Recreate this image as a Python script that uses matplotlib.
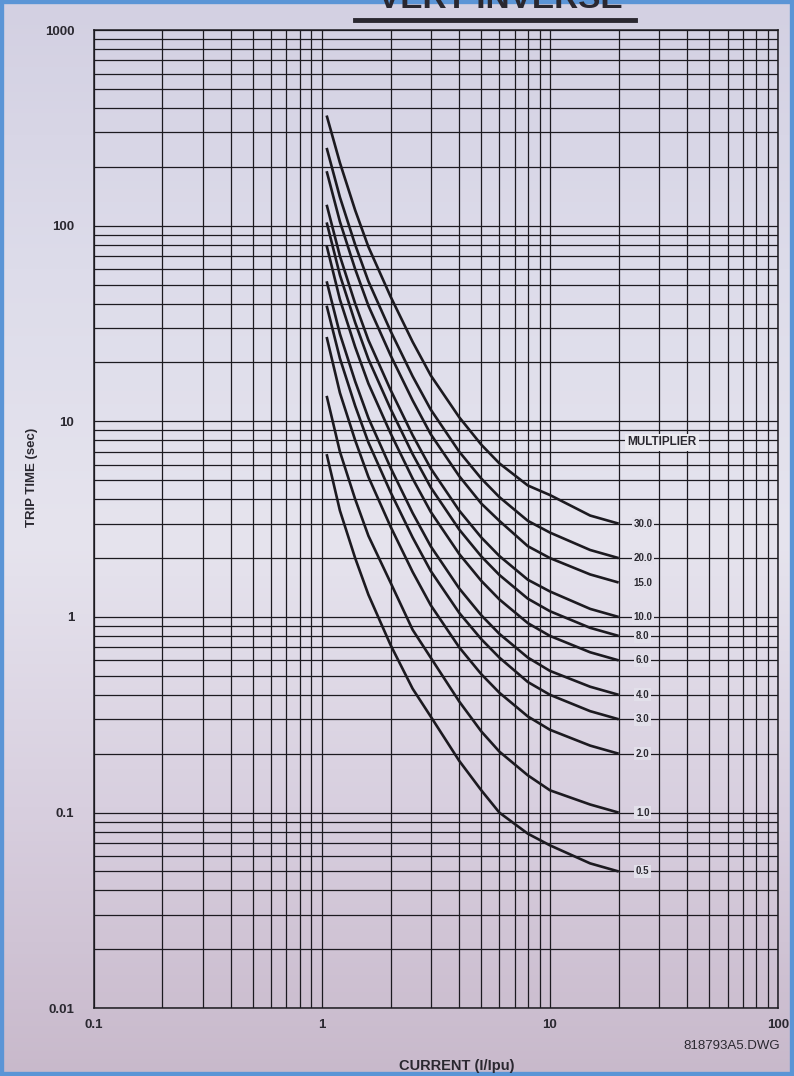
import numpy as np
import matplotlib
matplotlib.use("Agg")
import matplotlib.pyplot as plt
from matplotlib.colors import LinearSegmentedColormap
from matplotlib.patches import Rectangle
from matplotlib.lines import Line2D

# ---- data --------------------------------------------------------------------
current = [1.05, 1.2, 1.4, 1.6, 2.0, 2.5, 3.0, 4.0, 5.0, 6.0, 8.0, 10.0, 15.0, 20.0]

multipliers = ["30.0", "20.0", "15.0", "10.0", "8.0", "6.0", "4.0", "3.0", "2.0", "1.0", "0.5"]

t_30 = [366, 210, 120, 78, 43.5, 25.5, 17.2, 10.5, 7.6, 6.1, 4.7, 4.2, 3.3, 3.0]
t_20 = [250, 140, 80, 52, 29, 17, 11.5, 7.0, 5.1, 4.1, 3.1, 2.7, 2.2, 2.0]
t_15 = [190, 105, 60, 39, 21.8, 12.8, 8.6, 5.25, 3.8, 3.1, 2.3, 2.0, 1.65, 1.5]
t_10 = [128, 70, 40, 26, 14.5, 8.5, 5.75, 3.5, 2.55, 2.05, 1.55, 1.35, 1.1, 1.0]
t_8 = [104, 56, 32, 20.8, 11.6, 6.8, 4.6, 2.8, 2.04, 1.64, 1.24, 1.07, 0.88, 0.8]
t_6 = [79, 42, 24, 15.6, 8.7, 5.1, 3.45, 2.1, 1.53, 1.23, 0.93, 0.8, 0.66, 0.6]
t_4 = [52, 28, 16, 10.4, 5.8, 3.4, 2.3, 1.4, 1.02, 0.82, 0.62, 0.53, 0.44, 0.4]
t_3 = [39, 21, 12, 7.8, 4.35, 2.55, 1.72, 1.05, 0.77, 0.62, 0.465, 0.4, 0.33, 0.3]
t_2 = [27, 14, 8.0, 5.2, 2.9, 1.7, 1.15, 0.7, 0.51, 0.41, 0.31, 0.265, 0.22, 0.2]
t_1 = [13.5, 7.0, 4.0, 2.6, 1.5, 0.86, 0.62, 0.37, 0.26, 0.205, 0.155, 0.13, 0.11, 0.1]
t_05 = [6.8, 3.5, 2.0, 1.3, 0.72, 0.43, 0.31, 0.184, 0.13, 0.10, 0.078, 0.068, 0.055, 0.05]

curves = [t_30, t_20, t_15, t_10, t_8, t_6, t_4, t_3, t_2, t_1, t_05]

x_ticks = [0.1, 1, 10, 100]
x_ticklabels = ["0.1", "1", "10", "100"]
y_ticks = [0.01, 0.1, 1, 10, 100, 1000]
y_ticklabels = ["0.01", "0.1", "1", "10", "100", "1000"]

BG = "#e2e0ea"
INK = "#1c1a20"
TXT = "#2a2830"
FONT = "Liberation Sans"

# ---- figure -----------------------------------------------------------------
fig = plt.figure(figsize=(7.94, 10.76), dpi=100)

# paper background (photo light falloff)
bg = fig.add_axes([0, 0, 1, 1], zorder=-5)
cmap = LinearSegmentedColormap.from_list(
    "paper", ["#c8b9cb", "#d8cfdf", "#e6e4ee", "#dddcea", "#d3d0e2"])
bg.imshow(np.linspace(0, 1, 256).reshape(-1, 1), aspect="auto", cmap=cmap,
          origin="lower", extent=[0, 1, 0, 1])
bg.axis("off")

ax = fig.add_axes([0.118, 0.063, 0.862, 0.909])
ax.set_facecolor("none")
ax.set_xscale("log")
ax.set_yscale("log")
ax.set_xlim(0.1, 100)
ax.set_ylim(0.01, 1000)

ax.grid(True, which="both", color=INK, lw=0.9)
ax.set_axisbelow(True)
for s in ax.spines.values():
    s.set_color(INK)
    s.set_linewidth(1.1)

ax.set_xticks(x_ticks)
ax.set_xticklabels(x_ticklabels)
ax.set_yticks(y_ticks)
ax.set_yticklabels(y_ticklabels)
ax.tick_params(which="both", length=0)
ax.tick_params(axis="x", pad=8)
ax.tick_params(axis="y", pad=14)
for lab in ax.get_xticklabels() + ax.get_yticklabels():
    lab.set_fontfamily(FONT)
    lab.set_fontweight("bold")
    lab.set_fontsize(9.5)
    lab.set_color(TXT)

for name, t in zip(multipliers, curves):
    ax.plot(current, t, color=INK, lw=1.9, solid_capstyle="butt", zorder=3)
    ax.text(25.5, t[-1], name, ha="center", va="center", fontsize=7,
            fontfamily=FONT, fontweight="bold", color=TXT, zorder=4,
            bbox=dict(facecolor=BG, edgecolor="none", pad=1.2))

ax.text(31, 7.8, "MULTIPLIER", ha="center", va="center", fontsize=8.5,
        fontfamily=FONT, fontweight="bold", color=TXT, zorder=4,
        bbox=dict(facecolor="#ebeaf0", edgecolor="none", pad=1.5))

fig.text(0.040, 0.556, "TRIP TIME (sec)", rotation=90, ha="center", va="center",
         fontsize=9.5, fontfamily=FONT, fontweight="bold", color=TXT)
fig.text(0.575, 0.0095, "CURRENT (I/Ipu)", ha="center", va="center",
         fontsize=10.5, fontfamily=FONT, fontweight="bold", color=TXT)
fig.text(0.982, 0.028, "818793A5.DWG", ha="right", va="center",
         fontsize=9.5, fontfamily=FONT, color=TXT)

# page title, mostly cut off by the photo edge
fig.text(0.63, 0.9925, "VERY INVERSE", ha="center", va="baseline",
         fontsize=24, fontfamily=FONT, fontweight="bold", color=TXT)
fig.add_artist(Line2D([0.447, 0.80], [0.981, 0.981], transform=fig.transFigure,
                      color=TXT, lw=3.5))

# screenshot frame
fig.add_artist(Rectangle((0, 0), 1, 1, transform=fig.transFigure, fill=False,
                         edgecolor="#5b95d6", lw=6))

fig.savefig("out.png", dpi=100)
